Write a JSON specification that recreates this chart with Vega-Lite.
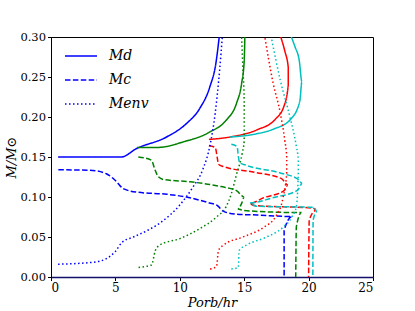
{
  "$schema": "https://vega.github.io/schema/vega-lite/v6.json",
  "width": 322,
  "height": 240,
  "autosize": "none",
  "padding": {"left": 51, "top": 37, "right": 42, "bottom": 34},
  "background": "white",
  "config": {
    "view": {"stroke": "black", "strokeWidth": 1},
    "font": "DejaVu Serif",
    "axis": {
      "labelFont": "DejaVu Serif",
      "labelFontSize": 12,
      "labelColor": "black",
      "titleFont": "DejaVu Serif",
      "titleFontSize": 13,
      "titleFontWeight": "normal",
      "titleFontStyle": "italic",
      "titleColor": "black",
      "tickColor": "black",
      "tickSize": 3.5,
      "domainColor": "black",
      "grid": false
    }
  },
  "data": {
    "values": [
      {"c":"b","t":"Md","i":0,"x":0.55,"y":0.150},
      {"c":"b","t":"Md","i":1,"x":5.45,"y":0.150},
      {"c":"b","t":"Md","i":2,"x":6.65,"y":0.1606},
      {"c":"b","t":"Md","i":3,"x":8.97,"y":0.175},
      {"c":"b","t":"Md","i":4,"x":10.53,"y":0.192},
      {"c":"b","t":"Md","i":5,"x":11.56,"y":0.211},
      {"c":"b","t":"Md","i":6,"x":12.34,"y":0.238},
      {"c":"b","t":"Md","i":7,"x":12.8,"y":0.267},
      {"c":"b","t":"Md","i":8,"x":13.06,"y":0.30},

      {"c":"g","t":"Md","i":0,"x":6.68,"y":0.162},
      {"c":"g","t":"Md","i":1,"x":8.3,"y":0.162},
      {"c":"g","t":"Md","i":2,"x":10.3,"y":0.169},
      {"c":"g","t":"Md","i":3,"x":12.3,"y":0.181},
      {"c":"g","t":"Md","i":4,"x":13.6,"y":0.196},
      {"c":"g","t":"Md","i":5,"x":14.4,"y":0.217},
      {"c":"g","t":"Md","i":6,"x":14.8,"y":0.242},
      {"c":"g","t":"Md","i":7,"x":15.0,"y":0.27},
      {"c":"g","t":"Md","i":8,"x":15.05,"y":0.30},

      {"c":"r","t":"Md","i":0,"x":12.26,"y":0.172},
      {"c":"r","t":"Md","i":1,"x":13.9,"y":0.175},
      {"c":"r","t":"Md","i":2,"x":16.0,"y":0.184},
      {"c":"r","t":"Md","i":3,"x":17.4,"y":0.197},
      {"c":"r","t":"Md","i":4,"x":18.1,"y":0.214},
      {"c":"r","t":"Md","i":5,"x":18.42,"y":0.240},
      {"c":"r","t":"Md","i":6,"x":18.42,"y":0.262},
      {"c":"r","t":"Md","i":7,"x":18.16,"y":0.282},
      {"c":"r","t":"Md","i":8,"x":17.84,"y":0.30},

      {"c":"c","t":"Md","i":0,"x":13.9,"y":0.175},
      {"c":"c","t":"Md","i":1,"x":15.96,"y":0.179},
      {"c":"c","t":"Md","i":2,"x":17.3,"y":0.185},
      {"c":"c","t":"Md","i":3,"x":18.6,"y":0.197},
      {"c":"c","t":"Md","i":4,"x":19.32,"y":0.220},
      {"c":"c","t":"Md","i":5,"x":19.48,"y":0.244},
      {"c":"c","t":"Md","i":6,"x":19.28,"y":0.270},
      {"c":"c","t":"Md","i":7,"x":18.94,"y":0.288},
      {"c":"c","t":"Md","i":8,"x":18.66,"y":0.30},

      {"c":"b","t":"Mc","i":0,"x":0.57,"y":0.134},
      {"c":"b","t":"Mc","i":1,"x":3.0,"y":0.1335},
      {"c":"b","t":"Mc","i":2,"x":4.3,"y":0.129},
      {"c":"b","t":"Mc","i":3,"x":5.1,"y":0.119},
      {"c":"b","t":"Mc","i":4,"x":5.6,"y":0.1105},
      {"c":"b","t":"Mc","i":5,"x":6.7,"y":0.106},
      {"c":"b","t":"Mc","i":6,"x":9.0,"y":0.1034},
      {"c":"b","t":"Mc","i":7,"x":10.5,"y":0.100},
      {"c":"b","t":"Mc","i":8,"x":12.3,"y":0.0925},
      {"c":"b","t":"Mc","i":9,"x":12.9,"y":0.0895},
      {"c":"b","t":"Mc","i":10,"x":13.4,"y":0.082},
      {"c":"b","t":"Mc","i":11,"x":14.4,"y":0.0785},
      {"c":"b","t":"Mc","i":12,"x":16.0,"y":0.0775},
      {"c":"b","t":"Mc","i":13,"x":18.7,"y":0.0755},
      {"c":"b","t":"Mc","i":14,"x":18.1,"y":0.058},
      {"c":"b","t":"Mc","i":15,"x":18.1,"y":0.0},

      {"c":"g","t":"Mc","i":0,"x":6.78,"y":0.150},
      {"c":"g","t":"Mc","i":1,"x":7.8,"y":0.146},
      {"c":"g","t":"Mc","i":2,"x":8.05,"y":0.135},
      {"c":"g","t":"Mc","i":3,"x":8.3,"y":0.126},
      {"c":"g","t":"Mc","i":4,"x":8.7,"y":0.122},
      {"c":"g","t":"Mc","i":5,"x":10.8,"y":0.119},
      {"c":"g","t":"Mc","i":6,"x":13.2,"y":0.113},
      {"c":"g","t":"Mc","i":7,"x":14.4,"y":0.108},
      {"c":"g","t":"Mc","i":8,"x":15.0,"y":0.100},
      {"c":"g","t":"Mc","i":9,"x":14.8,"y":0.092},
      {"c":"g","t":"Mc","i":10,"x":14.5,"y":0.085},
      {"c":"g","t":"Mc","i":11,"x":15.0,"y":0.083},
      {"c":"g","t":"Mc","i":12,"x":19.45,"y":0.0805},
      {"c":"g","t":"Mc","i":13,"x":19.05,"y":0.063},
      {"c":"g","t":"Mc","i":14,"x":19.0,"y":0.0},

      {"c":"r","t":"Mc","i":0,"x":12.26,"y":0.164},
      {"c":"r","t":"Mc","i":1,"x":12.75,"y":0.162},
      {"c":"r","t":"Mc","i":2,"x":12.9,"y":0.150},
      {"c":"r","t":"Mc","i":3,"x":13.0,"y":0.141},
      {"c":"r","t":"Mc","i":4,"x":13.4,"y":0.138},
      {"c":"r","t":"Mc","i":5,"x":15.8,"y":0.131},
      {"c":"r","t":"Mc","i":6,"x":17.9,"y":0.123},
      {"c":"r","t":"Mc","i":7,"x":18.4,"y":0.115},
      {"c":"r","t":"Mc","i":8,"x":18.1,"y":0.108},
      {"c":"r","t":"Mc","i":9,"x":16.5,"y":0.099},
      {"c":"r","t":"Mc","i":10,"x":15.45,"y":0.092},
      {"c":"r","t":"Mc","i":11,"x":15.7,"y":0.0895},
      {"c":"r","t":"Mc","i":12,"x":20.4,"y":0.086},
      {"c":"r","t":"Mc","i":13,"x":20.55,"y":0.083},
      {"c":"r","t":"Mc","i":14,"x":20.05,"y":0.071},
      {"c":"r","t":"Mc","i":15,"x":20.0,"y":0.0},

      {"c":"c","t":"Mc","i":0,"x":14.0,"y":0.166},
      {"c":"c","t":"Mc","i":1,"x":14.45,"y":0.163},
      {"c":"c","t":"Mc","i":2,"x":14.55,"y":0.150},
      {"c":"c","t":"Mc","i":3,"x":14.65,"y":0.143},
      {"c":"c","t":"Mc","i":4,"x":15.1,"y":0.140},
      {"c":"c","t":"Mc","i":5,"x":17.8,"y":0.130},
      {"c":"c","t":"Mc","i":6,"x":19.2,"y":0.122},
      {"c":"c","t":"Mc","i":7,"x":19.5,"y":0.1168},
      {"c":"c","t":"Mc","i":8,"x":19.15,"y":0.1085},
      {"c":"c","t":"Mc","i":9,"x":17.2,"y":0.099},
      {"c":"c","t":"Mc","i":10,"x":15.45,"y":0.0925},
      {"c":"c","t":"Mc","i":11,"x":15.9,"y":0.0885},
      {"c":"c","t":"Mc","i":12,"x":20.4,"y":0.087},
      {"c":"c","t":"Mc","i":13,"x":20.65,"y":0.082},
      {"c":"c","t":"Mc","i":14,"x":20.35,"y":0.071},
      {"c":"c","t":"Mc","i":15,"x":20.33,"y":0.0},

      {"c":"b","t":"Menv","i":0,"x":0.55,"y":0.016},
      {"c":"b","t":"Menv","i":1,"x":3.3,"y":0.0185},
      {"c":"b","t":"Menv","i":2,"x":4.3,"y":0.023},
      {"c":"b","t":"Menv","i":3,"x":5.0,"y":0.032},
      {"c":"b","t":"Menv","i":4,"x":5.5,"y":0.043},
      {"c":"b","t":"Menv","i":5,"x":6.4,"y":0.050},
      {"c":"b","t":"Menv","i":6,"x":7.7,"y":0.060},
      {"c":"b","t":"Menv","i":7,"x":8.5,"y":0.068},
      {"c":"b","t":"Menv","i":8,"x":10.0,"y":0.090},
      {"c":"b","t":"Menv","i":9,"x":11.0,"y":0.112},
      {"c":"b","t":"Menv","i":10,"x":11.8,"y":0.135},
      {"c":"b","t":"Menv","i":11,"x":12.35,"y":0.165},
      {"c":"b","t":"Menv","i":12,"x":12.75,"y":0.205},
      {"c":"b","t":"Menv","i":13,"x":13.1,"y":0.260},
      {"c":"b","t":"Menv","i":14,"x":13.3,"y":0.30},

      {"c":"g","t":"Menv","i":0,"x":6.8,"y":0.012},
      {"c":"g","t":"Menv","i":1,"x":7.8,"y":0.015},
      {"c":"g","t":"Menv","i":2,"x":8.1,"y":0.033},
      {"c":"g","t":"Menv","i":3,"x":8.45,"y":0.040},
      {"c":"g","t":"Menv","i":4,"x":10.0,"y":0.048},
      {"c":"g","t":"Menv","i":5,"x":11.5,"y":0.060},
      {"c":"g","t":"Menv","i":6,"x":12.85,"y":0.075},
      {"c":"g","t":"Menv","i":7,"x":13.6,"y":0.088},
      {"c":"g","t":"Menv","i":8,"x":14.0,"y":0.104},
      {"c":"g","t":"Menv","i":9,"x":14.4,"y":0.128},
      {"c":"g","t":"Menv","i":10,"x":14.85,"y":0.155},
      {"c":"g","t":"Menv","i":11,"x":15.0,"y":0.170},
      {"c":"g","t":"Menv","i":12,"x":15.0,"y":0.220},
      {"c":"g","t":"Menv","i":13,"x":14.9,"y":0.260},
      {"c":"g","t":"Menv","i":14,"x":14.8,"y":0.30},

      {"c":"r","t":"Menv","i":0,"x":12.35,"y":0.010},
      {"c":"r","t":"Menv","i":1,"x":12.85,"y":0.013},
      {"c":"r","t":"Menv","i":2,"x":13.0,"y":0.033},
      {"c":"r","t":"Menv","i":3,"x":13.4,"y":0.040},
      {"c":"r","t":"Menv","i":4,"x":14.9,"y":0.050},
      {"c":"r","t":"Menv","i":5,"x":16.5,"y":0.062},
      {"c":"r","t":"Menv","i":6,"x":17.5,"y":0.077},
      {"c":"r","t":"Menv","i":7,"x":18.0,"y":0.098},
      {"c":"r","t":"Menv","i":8,"x":18.3,"y":0.130},
      {"c":"r","t":"Menv","i":9,"x":18.3,"y":0.150},
      {"c":"r","t":"Menv","i":10,"x":18.15,"y":0.171},
      {"c":"r","t":"Menv","i":11,"x":17.8,"y":0.205},
      {"c":"r","t":"Menv","i":12,"x":17.25,"y":0.242},
      {"c":"r","t":"Menv","i":13,"x":16.6,"y":0.30},

      {"c":"c","t":"Menv","i":0,"x":14.0,"y":0.010},
      {"c":"c","t":"Menv","i":1,"x":14.55,"y":0.012},
      {"c":"c","t":"Menv","i":2,"x":14.6,"y":0.033},
      {"c":"c","t":"Menv","i":3,"x":15.2,"y":0.040},
      {"c":"c","t":"Menv","i":4,"x":16.75,"y":0.050},
      {"c":"c","t":"Menv","i":5,"x":18.0,"y":0.062},
      {"c":"c","t":"Menv","i":6,"x":18.7,"y":0.075},
      {"c":"c","t":"Menv","i":7,"x":19.05,"y":0.088},
      {"c":"c","t":"Menv","i":8,"x":19.2,"y":0.130},
      {"c":"c","t":"Menv","i":9,"x":19.2,"y":0.146},
      {"c":"c","t":"Menv","i":10,"x":19.05,"y":0.163},
      {"c":"c","t":"Menv","i":11,"x":18.55,"y":0.200},
      {"c":"c","t":"Menv","i":12,"x":17.8,"y":0.246},
      {"c":"c","t":"Menv","i":13,"x":17.1,"y":0.30}
    ]
  },
  "mark": {"type": "line", "strokeWidth": 1.5, "clip": true, "interpolate": "monotone"},
  "encoding": {
    "x": {
      "field": "x", "type": "quantitative",
      "scale": {"domain": [0, 25], "nice": false, "zero": false},
      "axis": {"values": [0, 5, 10, 15, 20, 25], "title": "Porb/hr", "titleY": 29, "titleBaseline": "alphabetic", "domainColor": "#10106a", "domainWidth": 1.5, "labelPadding": 2}
    },
    "y": {
      "field": "y", "type": "quantitative",
      "scale": {"domain": [0, 0.3], "nice": false},
      "axis": {"values": [0, 0.05, 0.1, 0.15, 0.2, 0.25, 0.3], "format": ".2f", "title": "M/M⊙", "titlePadding": 1, "labelPadding": 2, "labelFontSize": 11.5}
    },
    "color": {
      "field": "c", "type": "nominal",
      "scale": {"domain": ["b", "g", "r", "c"], "range": ["#0000ff", "#008000", "#ff0000", "#00bfbf"]},
      "legend": null
    },
    "strokeDash": {
      "field": "t", "type": "nominal",
      "scale": {"domain": ["Md", "Mc", "Menv"], "range": [[1, 0], [5.5, 2.4], [1.5, 2.5]]},
      "legend": {
        "title": null,
        "orient": "none",
        "legendX": 13,
        "legendY": 2,
        "padding": 0,
        "symbolType": "M-1,0H1",
        "symbolSize": 1024,
        "symbolStrokeColor": "#0000ff",
        "symbolStrokeWidth": 1.5,
        "rowPadding": -12,
        "labelOffset": 11,
        "labelFont": "DejaVu Serif",
        "labelFontStyle": "italic",
        "labelFontSize": 14,
        "labelColor": "black"
      }
    },
    "detail": {"field": "t"},
    "order": {"field": "i", "type": "quantitative"}
  }
}
